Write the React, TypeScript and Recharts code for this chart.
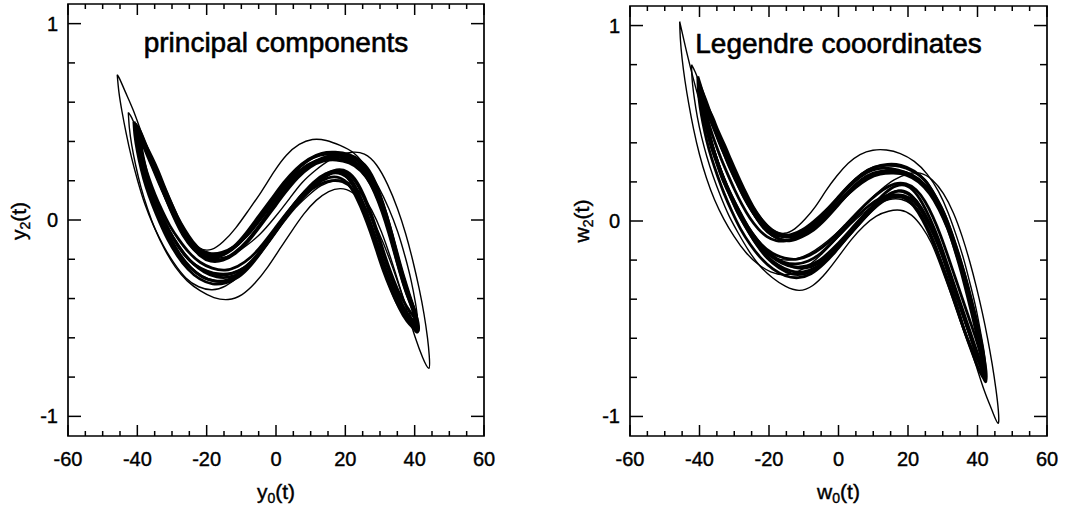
import React from 'react';
import { ScatterChart, Scatter, XAxis, YAxis, ReferenceArea } from 'recharts';

type Pt = [number, number];

// ---------- axis ticks ----------
const xTicks = [-60, -55, -50, -45, -40, -35, -30, -25, -20, -15, -10, -5, 0, 5, 10, 15, 20, 25, 30, 35, 40, 45, 50, 55, 60];
const xMajor = [-60, -40, -20, 0, 20, 40, 60];
const yTicks = [-1, -0.8, -0.6, -0.4, -0.2, 0, 0.2, 0.4, 0.6, 0.8, 1];
const yMajor = [-1, 0, 1];

// ---------- principal components panel (y0, y2) ----------
const pcOuterA: Pt[] = [
  [-45.8, 0.74], [-45.3, 0.65], [-44.4, 0.55], [-43.2, 0.44], [-41.7, 0.32], [-39.9, 0.2], [-37.8, 0.08], [-35.3, -0.03],
  [-32.5, -0.13], [-29.4, -0.22], [-26, -0.295], [-22.3, -0.34], [-18.4, -0.355], [-14.5, -0.335], [-10.6, -0.285],
  [-6.8, -0.215], [-3, -0.13], [1, -0.04], [5, 0.05], [9, 0.12], [13, 0.175], [17, 0.2], [21, 0.19], [24.5, 0.135],
  [27.6, 0.05], [30.4, -0.06], [33, -0.19], [35.5, -0.33], [37.9, -0.47], [40.2, -0.6], [42.3, -0.7], [44.1, -0.755],
  [44.2, -0.69], [43.7, -0.6], [42.7, -0.48], [41.3, -0.35], [39.5, -0.21], [37.4, -0.07], [35, 0.06], [32.2, 0.18],
  [29, 0.28], [25.5, 0.335], [22, 0.345], [18.5, 0.33], [15, 0.3], [11.5, 0.255], [7.5, 0.19], [3.5, 0.1], [-0.5, 0.01],
  [-4.5, -0.07], [-8.5, -0.13], [-12.5, -0.175], [-16.5, -0.195], [-20.5, -0.19], [-24, -0.15], [-27, -0.08],
  [-29.6, 0.01], [-32, 0.11], [-34.3, 0.22], [-36.6, 0.34], [-38.9, 0.45], [-41.2, 0.56], [-43.4, 0.65], [-45, 0.715],
  [-45.8, 0.74],
];
const pcOuterB: Pt[] = [
  [-42.6, 0.548], [-42.3, 0.47], [-41.6, 0.38], [-40.5, 0.28], [-39, 0.17], [-37.1, 0.06], [-34.8, -0.05], [-32.1, -0.15],
  [-29, -0.24], [-25.6, -0.31], [-21.9, -0.36], [-17.9, -0.395], [-13.8, -0.405], [-9.8, -0.38], [-6, -0.32],
  [-2.4, -0.24], [1, -0.15], [4.4, -0.06], [8, 0.03], [11.6, 0.1], [15.2, 0.145], [18.6, 0.16], [22, 0.14], [25.2, 0.08],
  [28.2, -0.01], [31, -0.12], [33.6, -0.24], [36, -0.36], [38.1, -0.46], [39.7, -0.52], [40.6, -0.546],
  [40.8, -0.5], [40.2, -0.42], [39, -0.31], [37.3, -0.19], [35.1, -0.06], [32.5, 0.06], [29.5, 0.17], [26.2, 0.265],
  [22.5, 0.34], [18.5, 0.38], [14.5, 0.405], [10.5, 0.41], [6.7, 0.385], [3, 0.33], [-0.6, 0.245], [-4.2, 0.145],
  [-7.9, 0.05], [-11.6, -0.04], [-15.2, -0.11], [-18.6, -0.15], [-22, -0.145], [-25.2, -0.1], [-28, -0.03], [-30.6, 0.06],
  [-33.1, 0.16], [-35.5, 0.26], [-37.8, 0.36], [-39.9, 0.45], [-41.6, 0.52], [-42.6, 0.548],
];
const pcCore1: Pt[] = [
  [-39.8, 0.44], [-39.4, 0.38], [-38.6, 0.31], [-37.5, 0.23], [-36, 0.15], [-34.2, 0.07], [-32.1, -0.01], [-29.7, -0.09],
  [-27, -0.16], [-24, -0.22], [-20.7, -0.265], [-17.1, -0.29], [-13.4, -0.29], [-9.7, -0.26], [-6.1, -0.2], [-2.6, -0.12],
  [0.9, -0.03], [4.4, 0.05], [8, 0.12], [11.6, 0.18], [15.2, 0.215], [18.3, 0.215], [21, 0.18], [23.3, 0.11], [25.3, 0.03],
  [27.2, -0.06], [29.1, -0.16], [31, -0.26], [33, -0.35], [35.1, -0.43], [37.3, -0.49], [39.3, -0.53], [40.3, -0.548],
  [40.3, -0.51], [39.3, -0.45], [37.8, -0.38], [36.2, -0.29], [34.6, -0.19], [33, -0.08], [31.2, 0.03], [29.1, 0.13],
  [26.6, 0.22], [23.6, 0.285], [20.2, 0.32], [16.5, 0.335], [12.7, 0.33], [9, 0.3], [5.4, 0.245], [1.8, 0.17], [-1.8, 0.08],
  [-5.4, -0.01], [-9, -0.09], [-12.6, -0.15], [-16.2, -0.185], [-19.4, -0.19], [-22.2, -0.165], [-24.7, -0.115], [-27, -0.05],
  [-29.2, 0.025], [-31.3, 0.105], [-33.3, 0.19], [-35.2, 0.27], [-37, 0.35], [-38.7, 0.41], [-39.8, 0.44],
];
const pcCore2: Pt[] = [
  [-40.6, 0.49], [-40.3, 0.42], [-39.5, 0.34], [-38.4, 0.25], [-36.9, 0.16], [-35.1, 0.07], [-33, -0.02], [-30.6, -0.1],
  [-27.9, -0.18], [-24.9, -0.24], [-21.6, -0.285], [-18, -0.31], [-14.3, -0.31], [-10.6, -0.28], [-7, -0.22], [-3.5, -0.14],
  [0, -0.05], [3.5, 0.04], [7.1, 0.12], [10.7, 0.19], [14.3, 0.235], [17.6, 0.245], [20.6, 0.215], [23.1, 0.145], [25.3, 0.055],
  [27.3, -0.04], [29.3, -0.15], [31.3, -0.26], [33.4, -0.36], [35.6, -0.45], [37.8, -0.515], [39.8, -0.555], [40.8, -0.57],
  [40.8, -0.53], [39.9, -0.47], [38.5, -0.39], [36.9, -0.3], [35.3, -0.2], [33.7, -0.09], [32, 0.02], [30, 0.13], [27.6, 0.23],
  [24.7, 0.295], [21.3, 0.325], [17.5, 0.34], [13.6, 0.338], [9.8, 0.31], [6.2, 0.26], [2.6, 0.19], [-1, 0.1], [-4.6, 0.01],
  [-8.2, -0.07], [-11.8, -0.135], [-15.4, -0.175], [-18.6, -0.18], [-21.5, -0.155], [-24, -0.11], [-26.3, -0.05],
  [-28.5, 0.02], [-30.6, 0.1], [-32.6, 0.18], [-34.5, 0.26], [-36.3, 0.33], [-37.9, 0.4], [-39.4, 0.46], [-40.6, 0.49],
];
const pcCore3: Pt[] = [
  [-39, 0.41], [-38.6, 0.35], [-37.8, 0.28], [-36.7, 0.2], [-35.2, 0.12], [-33.4, 0.04], [-31.3, -0.04], [-28.9, -0.11],
  [-26.2, -0.18], [-23.2, -0.23], [-19.9, -0.26], [-16.3, -0.275], [-12.6, -0.27], [-8.9, -0.24], [-5.3, -0.18], [-1.8, -0.1],
  [1.7, -0.01], [5.2, 0.07], [8.8, 0.135], [12.4, 0.18], [16, 0.2], [19.2, 0.195], [21.9, 0.16], [24.1, 0.095], [26, 0.015],
  [27.9, -0.075], [29.8, -0.17], [31.7, -0.265], [33.7, -0.35], [35.8, -0.425], [37.9, -0.48], [39.6, -0.515], [40, -0.525],
  [39.9, -0.49], [38.9, -0.43], [37.4, -0.36], [35.8, -0.27], [34.2, -0.17], [32.5, -0.065], [30.6, 0.04], [28.4, 0.14],
  [25.8, 0.225], [22.8, 0.28], [19.4, 0.305], [15.7, 0.31], [12, 0.3], [8.4, 0.27], [4.8, 0.22], [1.2, 0.15], [-2.4, 0.06],
  [-6, -0.025], [-9.6, -0.1], [-13.2, -0.155], [-16.8, -0.18], [-20.2, -0.175], [-23.3, -0.14], [-26, -0.08], [-28.5, -0.01],
  [-30.7, 0.07], [-32.8, 0.155], [-34.7, 0.24], [-36.4, 0.31], [-37.9, 0.37], [-39, 0.41],
];
const pcCore4: Pt[] = [
  [-40.3, 0.46], [-39.9, 0.4], [-39.1, 0.32], [-38, 0.24], [-36.5, 0.15], [-34.7, 0.06], [-32.6, -0.02], [-30.2, -0.1],
  [-27.5, -0.18], [-24.5, -0.245], [-21.2, -0.29], [-17.6, -0.31], [-13.9, -0.305], [-10.2, -0.27], [-6.6, -0.205],
  [-3.1, -0.125], [0.4, -0.04], [3.9, 0.04], [7.5, 0.11], [11.1, 0.175], [14.7, 0.225], [18.1, 0.25], [21.2, 0.23], [23.8, 0.17],
  [26, 0.085], [28, -0.01], [29.9, -0.115], [31.8, -0.22], [33.8, -0.32], [35.9, -0.41], [38, -0.48], [39.8, -0.525], [40.6, -0.54],
  [40.6, -0.5], [39.6, -0.44], [38.1, -0.37], [36.5, -0.28], [34.9, -0.18], [33.3, -0.07], [31.5, 0.04], [29.4, 0.145],
  [26.9, 0.235], [24, 0.295], [20.6, 0.325], [17, 0.33], [13.3, 0.315], [9.7, 0.28], [6.1, 0.225], [2.5, 0.15], [-1.1, 0.065],
  [-4.7, -0.025], [-8.3, -0.105], [-11.9, -0.165], [-15.5, -0.2], [-18.8, -0.2], [-21.6, -0.17], [-24, -0.12], [-26.2, -0.06],
  [-28.3, 0.01], [-30.3, 0.09], [-32.2, 0.17], [-34, 0.25], [-35.8, 0.32], [-37.5, 0.38], [-39.1, 0.43], [-40.3, 0.46],
];
const pcCore5: Pt[] = [
  [-39.5, 0.43], [-39.1, 0.37], [-38.3, 0.3], [-37.2, 0.22], [-35.7, 0.14], [-33.9, 0.06], [-31.8, -0.02], [-29.4, -0.1],
  [-26.7, -0.17], [-23.7, -0.225], [-20.4, -0.26], [-16.8, -0.28], [-13.1, -0.275], [-9.4, -0.245], [-5.8, -0.185],
  [-2.3, -0.105], [1.2, -0.015], [4.7, 0.07], [8.3, 0.145], [11.9, 0.2], [15.5, 0.235], [18.8, 0.235], [21.6, 0.2], [23.9, 0.13],
  [25.9, 0.045], [27.8, -0.05], [29.7, -0.155], [31.6, -0.255], [33.6, -0.345], [35.7, -0.42], [37.9, -0.48], [39.7, -0.52],
  [40.4, -0.535], [40.4, -0.495], [39.5, -0.44], [38, -0.37], [36.4, -0.28], [34.8, -0.18], [33.1, -0.07], [31.3, 0.04],
  [29.2, 0.14], [26.8, 0.225], [23.9, 0.28], [20.6, 0.31], [17, 0.32], [13.3, 0.31], [9.6, 0.285], [6, 0.235], [2.4, 0.165],
  [-1.2, 0.08], [-4.8, -0.005], [-8.4, -0.08], [-12, -0.135], [-15.6, -0.165], [-19.1, -0.17], [-22.3, -0.145], [-25.2, -0.09],
  [-27.8, -0.02], [-30.1, 0.06], [-32.3, 0.15], [-34.3, 0.24], [-36.1, 0.32], [-37.8, 0.38], [-39, 0.42], [-39.5, 0.43],
];
const pcCore6: Pt[] = [
  [-39.6, 0.42], [-39, 0.36], [-38, 0.29], [-36.6, 0.21], [-34.9, 0.13], [-32.9, 0.05], [-30.6, -0.03], [-28, -0.1],
  [-25.1, -0.165], [-21.9, -0.215], [-18.4, -0.245], [-14.7, -0.255], [-11, -0.235], [-7.3, -0.19], [-3.7, -0.12], [-0.2, -0.04],
  [3.3, 0.04], [6.9, 0.115], [10.5, 0.18], [14.1, 0.23], [17.5, 0.255], [20.6, 0.245], [23.3, 0.195], [25.6, 0.115], [27.6, 0.025],
  [29.5, -0.075], [31.4, -0.18], [33.4, -0.28], [35.5, -0.37], [37.7, -0.44], [39.6, -0.49], [40.4, -0.51],
  [40.2, -0.48], [39, -0.42], [37.3, -0.34], [35.6, -0.24], [33.9, -0.13], [32, -0.02], [29.9, 0.085], [27.4, 0.18], [24.5, 0.25],
  [21.1, 0.29], [17.4, 0.305], [13.6, 0.3], [9.9, 0.27], [6.3, 0.215], [2.7, 0.14], [-0.9, 0.055], [-4.5, -0.03], [-8.1, -0.11],
  [-11.7, -0.17], [-15.3, -0.205], [-18.8, -0.21], [-22, -0.18], [-24.8, -0.125], [-27.3, -0.055], [-29.6, 0.025],
  [-31.8, 0.11], [-33.8, 0.19], [-35.7, 0.27], [-37.4, 0.34], [-38.8, 0.4], [-39.6, 0.42],
];
const pcCore7: Pt[] = [
  [-41, 0.5], [-40.7, 0.43], [-40, 0.35], [-38.9, 0.26], [-37.5, 0.17], [-35.7, 0.08], [-33.6, -0.01], [-31.2, -0.1],
  [-28.5, -0.18], [-25.4, -0.25], [-22, -0.3], [-18.3, -0.325], [-14.5, -0.32], [-10.8, -0.29], [-7.2, -0.23], [-3.7, -0.15],
  [-0.2, -0.065], [3.3, 0.025], [6.9, 0.105], [10.5, 0.175], [14.1, 0.225], [17.5, 0.245], [20.6, 0.225], [23.2, 0.16],
  [25.4, 0.075], [27.4, -0.02], [29.4, -0.125], [31.4, -0.235], [33.5, -0.34], [35.7, -0.43], [38, -0.5], [40, -0.545], [41, -0.565],
  [41, -0.525], [40, -0.46], [38.5, -0.38], [36.9, -0.29], [35.3, -0.19], [33.6, -0.08], [31.8, 0.03], [29.7, 0.135], [27.2, 0.23],
  [24.3, 0.3], [20.9, 0.335], [17.1, 0.345], [13.2, 0.34], [9.4, 0.31], [5.8, 0.26], [2.2, 0.19], [-1.4, 0.105], [-5, 0.02],
  [-8.6, -0.065], [-12.2, -0.135], [-15.8, -0.175], [-19.2, -0.18], [-22.2, -0.155], [-24.8, -0.105], [-27.2, -0.04],
  [-29.4, 0.035], [-31.5, 0.115], [-33.5, 0.2], [-35.4, 0.28], [-37.2, 0.36], [-38.8, 0.42], [-40.1, 0.47], [-41, 0.5],
];

// ---------- Legendre coordinates panel (w0, w2) ----------
const lgOuterA: Pt[] = [
  [-45.7, 1.02], [-45.5, 0.93], [-45, 0.83], [-44.2, 0.72], [-43.1, 0.6], [-41.7, 0.47], [-40, 0.34], [-38, 0.22], [-35.7, 0.11],
  [-33, 0.01], [-30, -0.08], [-26.7, -0.16], [-23.2, -0.22], [-19.5, -0.26], [-15.7, -0.275], [-11.9, -0.26], [-8.1, -0.22],
  [-4.3, -0.16], [-0.5, -0.09], [3.3, -0.02], [7.1, 0.04], [10.9, 0.085], [14.6, 0.11], [18.2, 0.11], [21.5, 0.08], [24.5, 0.02],
  [27.2, -0.07], [29.7, -0.18], [32.1, -0.31], [34.6, -0.45], [37.1, -0.6], [39.6, -0.74], [42, -0.87], [44.2, -0.97], [45.9, -1.035],
  [46, -0.97], [45.3, -0.86], [44.2, -0.73], [42.9, -0.6], [41.4, -0.47], [39.7, -0.34], [37.8, -0.21], [35.6, -0.08], [33.1, 0.04],
  [30.2, 0.14], [27, 0.21], [23.5, 0.245], [19.8, 0.24], [16, 0.21], [12.2, 0.16], [8.4, 0.1], [4.6, 0.03], [0.8, -0.04],
  [-3, -0.1], [-6.8, -0.15], [-10.6, -0.185], [-14.4, -0.2], [-18.1, -0.19], [-21.6, -0.15], [-24.8, -0.08], [-27.7, 0.01],
  [-30.4, 0.11], [-32.9, 0.22], [-35.3, 0.34], [-37.6, 0.47], [-39.8, 0.6], [-41.8, 0.73], [-43.5, 0.85], [-44.8, 0.95], [-45.7, 1.02],
];
const lgOuterB: Pt[] = [
  [-42.3, 0.8], [-42.1, 0.72], [-41.5, 0.63], [-40.6, 0.53], [-39.4, 0.43], [-37.9, 0.33], [-36.1, 0.23], [-34, 0.13], [-31.6, 0.03],
  [-28.9, -0.06], [-25.9, -0.15], [-22.6, -0.23], [-19, -0.29], [-15.2, -0.335], [-11.3, -0.355], [-7.4, -0.33], [-3.6, -0.265],
  [0.1, -0.18], [3.7, -0.095], [7.3, -0.025], [10.9, 0.025], [14.4, 0.05], [17.8, 0.055], [21, 0.03], [24, -0.03], [26.8, -0.115],
  [29.4, -0.23], [31.9, -0.35], [34.3, -0.47], [36.6, -0.59], [38.8, -0.69], [40.8, -0.765], [42.3, -0.8],
  [42.4, -0.75], [41.9, -0.67], [40.9, -0.57], [39.6, -0.45], [38, -0.33], [36.1, -0.2], [34, -0.08], [31.6, 0.04], [28.8, 0.15],
  [25.5, 0.24], [21.8, 0.305], [17.8, 0.345], [13.8, 0.363], [9.9, 0.362], [6.2, 0.34], [2.8, 0.295], [-0.5, 0.23], [-3.6, 0.155],
  [-6.6, 0.075], [-9.6, 0.01], [-12.6, -0.04], [-15.6, -0.063], [-18.6, -0.05], [-21.6, -0.01], [-24.4, 0.05], [-27, 0.13],
  [-29.4, 0.22], [-31.7, 0.32], [-33.9, 0.42], [-36, 0.52], [-38, 0.62], [-39.8, 0.7], [-41.3, 0.765], [-42.3, 0.8],
];
const lgCore1: Pt[] = [
  [-39.3, 0.66], [-39, 0.6], [-38.4, 0.53], [-37.4, 0.45], [-36.1, 0.37], [-34.6, 0.29], [-32.8, 0.21], [-30.8, 0.13], [-28.5, 0.05],
  [-26, -0.03], [-23.2, -0.1], [-20.1, -0.16], [-16.7, -0.205], [-13.1, -0.235], [-9.4, -0.24], [-5.7, -0.215], [-2.1, -0.165],
  [1.4, -0.1], [4.9, -0.03], [8.4, 0.04], [11.9, 0.1], [15.3, 0.145], [18.5, 0.15], [21.4, 0.12], [24, 0.06], [26.4, -0.02],
  [28.6, -0.11], [30.7, -0.21], [32.8, -0.32], [34.9, -0.43], [37, -0.54], [39, -0.64], [40.6, -0.72], [41.5, -0.77],
  [41.6, -0.73], [41.1, -0.66], [40.2, -0.58], [39, -0.49], [37.6, -0.39], [36, -0.28], [34.2, -0.17], [32.2, -0.06], [29.9, 0.04],
  [27.3, 0.13], [24.3, 0.19], [20.9, 0.235], [17.2, 0.26], [13.4, 0.27], [9.7, 0.26], [6.2, 0.225], [2.8, 0.17], [-0.5, 0.105],
  [-3.8, 0.04], [-7.2, -0.02], [-10.6, -0.06], [-13.5, -0.08], [-16.3, -0.08], [-19, -0.06], [-21.6, -0.015], [-24, 0.045],
  [-26.3, 0.115], [-28.4, 0.19], [-30.5, 0.27], [-32.5, 0.35], [-34.4, 0.43], [-36.1, 0.5], [-37.6, 0.57], [-38.7, 0.62], [-39.3, 0.66],
];
const lgCore2: Pt[] = [
  [-40, 0.7], [-39.7, 0.63], [-39.1, 0.56], [-38.1, 0.48], [-36.8, 0.39], [-35.3, 0.31], [-33.5, 0.22], [-31.5, 0.14], [-29.2, 0.05],
  [-26.7, -0.03], [-23.9, -0.11], [-20.8, -0.175], [-17.4, -0.225], [-13.8, -0.255], [-10.1, -0.26], [-6.4, -0.235], [-2.8, -0.185],
  [0.7, -0.12], [4.2, -0.05], [7.7, 0.02], [11.2, 0.085], [14.7, 0.135], [18, 0.155], [21, 0.13], [23.7, 0.07], [26.1, -0.01],
  [28.4, -0.1], [30.6, -0.2], [32.8, -0.31], [35, -0.43], [37.2, -0.55], [39.3, -0.66], [41, -0.75], [42, -0.8],
  [42.1, -0.76], [41.6, -0.69], [40.7, -0.6], [39.5, -0.5], [38.1, -0.4], [36.5, -0.29], [34.7, -0.18], [32.7, -0.07], [30.4, 0.04],
  [27.8, 0.13], [24.8, 0.21], [21.4, 0.255], [17.7, 0.28], [13.9, 0.285], [10.2, 0.275], [6.7, 0.24], [3.3, 0.185], [0, 0.12],
  [-3.3, 0.055], [-6.7, -0.005], [-10.1, -0.05], [-13.3, -0.075], [-16.3, -0.07], [-19.1, -0.045], [-21.8, 0], [-24.3, 0.06],
  [-26.6, 0.13], [-28.8, 0.21], [-30.9, 0.29], [-32.9, 0.37], [-34.8, 0.45], [-36.6, 0.53], [-38.2, 0.6], [-39.4, 0.66], [-40, 0.7],
];
const lgCore3: Pt[] = [
  [-38.6, 0.62], [-38.3, 0.56], [-37.6, 0.49], [-36.6, 0.41], [-35.3, 0.33], [-33.8, 0.25], [-32, 0.17], [-30, 0.09], [-27.7, 0.01],
  [-25.2, -0.065], [-22.4, -0.13], [-19.3, -0.18], [-15.9, -0.21], [-12.3, -0.22], [-8.7, -0.205], [-5.1, -0.165], [-1.6, -0.105],
  [1.9, -0.04], [5.4, 0.025], [8.9, 0.08], [12.4, 0.12], [15.8, 0.135], [18.9, 0.12], [21.7, 0.075], [24.2, 0.005], [26.5, -0.08],
  [28.7, -0.175], [30.8, -0.28], [32.9, -0.39], [35, -0.5], [37.1, -0.6], [39.1, -0.68], [40.4, -0.725], [41, -0.74],
  [41.1, -0.7], [40.5, -0.64], [39.5, -0.56], [38.3, -0.47], [36.9, -0.37], [35.3, -0.26], [33.5, -0.15], [31.5, -0.04], [29.2, 0.055],
  [26.6, 0.14], [23.6, 0.2], [20.2, 0.235], [16.6, 0.25], [12.9, 0.25], [9.3, 0.235], [5.8, 0.195], [2.4, 0.14], [-0.9, 0.08],
  [-4.2, 0.02], [-7.6, -0.03], [-11, -0.065], [-14.1, -0.08], [-17, -0.07], [-19.7, -0.04], [-22.2, 0.01], [-24.6, 0.075],
  [-26.8, 0.15], [-28.9, 0.23], [-30.9, 0.31], [-32.8, 0.39], [-34.6, 0.46], [-36.2, 0.53], [-37.6, 0.58], [-38.6, 0.62],
];
const lgCore4: Pt[] = [
  [-39.7, 0.68], [-39.4, 0.61], [-38.8, 0.54], [-37.8, 0.46], [-36.5, 0.38], [-35, 0.3], [-33.2, 0.21], [-31.2, 0.13], [-28.9, 0.04],
  [-26.4, -0.04], [-23.6, -0.12], [-20.5, -0.19], [-17.1, -0.24], [-13.5, -0.27], [-9.8, -0.27], [-6.1, -0.24], [-2.5, -0.18],
  [1, -0.11], [4.5, -0.035], [8, 0.04], [11.5, 0.11], [15, 0.165], [18.3, 0.185], [21.3, 0.16], [24, 0.095], [26.4, 0.01],
  [28.6, -0.085], [30.7, -0.19], [32.8, -0.3], [34.9, -0.41], [37, -0.52], [39.1, -0.63], [40.8, -0.72], [41.8, -0.78],
  [41.9, -0.74], [41.4, -0.67], [40.5, -0.59], [39.3, -0.5], [37.9, -0.4], [36.3, -0.29], [34.5, -0.18], [32.5, -0.07], [30.2, 0.03],
  [27.6, 0.12], [24.6, 0.19], [21.2, 0.235], [17.5, 0.255], [13.7, 0.258], [10, 0.245], [6.5, 0.21], [3.1, 0.155], [-0.2, 0.09],
  [-3.5, 0.025], [-6.9, -0.03], [-10.3, -0.07], [-13.4, -0.095], [-16.3, -0.095], [-19, -0.075], [-21.6, -0.035], [-24, 0.025],
  [-26.3, 0.095], [-28.5, 0.17], [-30.6, 0.25], [-32.6, 0.33], [-34.5, 0.41], [-36.3, 0.49], [-37.9, 0.56], [-39.1, 0.63], [-39.7, 0.68],
];
const lgCore5: Pt[] = [
  [-39, 0.64], [-38.7, 0.58], [-38.1, 0.51], [-37.1, 0.43], [-35.8, 0.35], [-34.3, 0.27], [-32.5, 0.19], [-30.5, 0.11], [-28.2, 0.03],
  [-25.7, -0.05], [-22.9, -0.12], [-19.8, -0.175], [-16.4, -0.215], [-12.8, -0.235], [-9.1, -0.23], [-5.4, -0.2], [-1.8, -0.145],
  [1.7, -0.08], [5.2, -0.01], [8.7, 0.055], [12.2, 0.105], [15.6, 0.13], [18.8, 0.13], [21.7, 0.1], [24.3, 0.04], [26.7, -0.04],
  [28.9, -0.13], [31, -0.23], [33.1, -0.34], [35.2, -0.45], [37.3, -0.56], [39.3, -0.66], [40.8, -0.735], [41.6, -0.765],
  [41.7, -0.725], [41.2, -0.66], [40.3, -0.58], [39.1, -0.49], [37.7, -0.39], [36.1, -0.28], [34.3, -0.17], [32.3, -0.06], [30, 0.04],
  [27.4, 0.125], [24.4, 0.19], [21, 0.23], [17.3, 0.25], [13.5, 0.25], [9.8, 0.235], [6.3, 0.195], [2.9, 0.14], [-0.4, 0.075],
  [-3.7, 0.01], [-7.1, -0.045], [-10.5, -0.08], [-13.7, -0.1], [-16.6, -0.095], [-19.3, -0.07], [-21.9, -0.025], [-24.3, 0.035],
  [-26.6, 0.105], [-28.7, 0.18], [-30.7, 0.26], [-32.7, 0.34], [-34.6, 0.42], [-36.2, 0.5], [-37.6, 0.56], [-38.5, 0.61], [-39, 0.64],
];
const lgCore6: Pt[] = [
  [-39.2, 0.65], [-38.8, 0.58], [-38, 0.5], [-36.9, 0.42], [-35.5, 0.34], [-33.9, 0.26], [-32.1, 0.18], [-30, 0.1], [-27.7, 0.02],
  [-25.1, -0.055], [-22.2, -0.12], [-19, -0.165], [-15.5, -0.19], [-11.9, -0.195], [-8.3, -0.175], [-4.7, -0.135], [-1.2, -0.08],
  [2.3, -0.015], [5.8, 0.05], [9.3, 0.11], [12.8, 0.16], [16.2, 0.19], [19.4, 0.19], [22.3, 0.16], [24.9, 0.1], [27.2, 0.02],
  [29.4, -0.075], [31.5, -0.18], [33.6, -0.29], [35.7, -0.4], [37.8, -0.51], [39.7, -0.61], [41, -0.69], [41.6, -0.73],
  [41.5, -0.69], [40.8, -0.62], [39.8, -0.54], [38.5, -0.45], [37, -0.35], [35.3, -0.245], [33.4, -0.14], [31.3, -0.035], [28.9, 0.06],
  [26.2, 0.14], [23, 0.2], [19.5, 0.235], [15.8, 0.245], [12, 0.24], [8.4, 0.215], [4.9, 0.17], [1.5, 0.115], [-1.8, 0.055],
  [-5.1, 0], [-8.5, -0.045], [-11.9, -0.08], [-15, -0.1], [-17.9, -0.1], [-20.6, -0.08], [-23.1, -0.04], [-25.5, 0.015],
  [-27.8, 0.085], [-29.9, 0.16], [-31.9, 0.24], [-33.8, 0.32], [-35.5, 0.4], [-37, 0.48], [-38.2, 0.56], [-39, 0.62], [-39.2, 0.65],
];
const lgCore7: Pt[] = [
  [-40.5, 0.74], [-40.3, 0.66], [-39.8, 0.58], [-39, 0.5], [-37.9, 0.41], [-36.5, 0.32], [-34.8, 0.23], [-32.9, 0.14], [-30.7, 0.05],
  [-28.2, -0.04], [-25.4, -0.12], [-22.3, -0.19], [-18.9, -0.245], [-15.3, -0.28], [-11.6, -0.29], [-7.9, -0.27], [-4.3, -0.22],
  [-0.8, -0.155], [2.7, -0.08], [6.2, -0.01], [9.7, 0.055], [13.2, 0.105], [16.6, 0.125], [19.8, 0.11], [22.6, 0.06], [25.1, -0.015],
  [27.4, -0.105], [29.6, -0.21], [31.8, -0.32], [34, -0.44], [36.2, -0.56], [38.4, -0.67], [40.4, -0.76], [41.9, -0.81], [42.4, -0.82],
  [42.5, -0.78], [42, -0.71], [41.1, -0.62], [39.9, -0.52], [38.5, -0.42], [36.9, -0.31], [35.1, -0.2], [33.1, -0.09], [30.8, 0.02],
  [28.2, 0.115], [25.2, 0.2], [21.8, 0.255], [18, 0.285], [14.1, 0.29], [10.3, 0.275], [6.7, 0.24], [3.2, 0.185], [-0.2, 0.12],
  [-3.6, 0.055], [-7, 0], [-10.4, -0.045], [-13.7, -0.07], [-16.8, -0.07], [-19.7, -0.05], [-22.4, -0.01], [-24.9, 0.05],
  [-27.2, 0.12], [-29.4, 0.2], [-31.5, 0.28], [-33.5, 0.37], [-35.4, 0.46], [-37.1, 0.55], [-38.6, 0.63], [-39.8, 0.7], [-40.5, 0.74],
];

const FONT = '"Liberation Sans", Arial, Helvetica, sans-serif';
const toXY = (a: Pt[]) => a.map(([x, y]) => ({ x, y }));

type Loop = { data: Pt[]; w: number };

type PanelProps = {
  left: number;
  width: number;
  top: number;
  plotLeft: number;
  plotRight: number;
  xAxisH: number;
  loops: Loop[];
};

function Panel({ left, width, top, plotLeft, plotRight, xAxisH, loops }: PanelProps) {
  const height = 506;
  const plotW = width - plotLeft - plotRight;
  const plotH = height - top - xAxisH;

  const XTick = (props: any) => {
    const { x, y, payload } = props;
    const v = payload.value;
    const major = xMajor.includes(v);
    const len = major ? 11 : 5;
    return (
      <g>
        <line x1={x} y1={y} x2={x} y2={y - len} stroke="#000" strokeWidth={1.5} />
        <line x1={x} y1={y - plotH} x2={x} y2={y - plotH + len} stroke="#000" strokeWidth={1.5} />
        {major && (
          <text x={x} y={y + 30} textAnchor="middle" fontFamily={FONT} fontSize={20} fill="#000" stroke="#000" strokeWidth={0.4}>
            {v}
          </text>
        )}
      </g>
    );
  };

  const YTick = (props: any) => {
    const { x, y, payload } = props;
    const v = payload.value;
    const major = yMajor.includes(v);
    const len = major ? 13 : 7;
    return (
      <g>
        <line x1={x} y1={y} x2={x + len} y2={y} stroke="#000" strokeWidth={1.5} />
        <line x1={x + plotW} y1={y} x2={x + plotW - len} y2={y} stroke="#000" strokeWidth={1.5} />
        {major && (
          <text x={x - 10} y={y + 7} textAnchor="end" fontFamily={FONT} fontSize={20} fill="#000" stroke="#000" strokeWidth={0.4}>
            {v}
          </text>
        )}
      </g>
    );
  };

  return (
    <div style={{ position: 'absolute', left, top: 0, width, height }}>
      <ScatterChart width={width} height={height} margin={{ top, right: plotRight, bottom: 0, left: 0 }}>
        <XAxis
          dataKey="x"
          type="number"
          domain={[-60, 60]}
          ticks={xTicks}
          interval={0}
          height={xAxisH}
          tickSize={0}
          tickMargin={0}
          tickLine={false}
          axisLine={false}
          tick={XTick}
          allowDataOverflow
        />
        <YAxis
          dataKey="y"
          type="number"
          domain={[-1.1, 1.1]}
          ticks={yTicks}
          interval={0}
          width={plotLeft}
          tickSize={0}
          tickMargin={0}
          tickLine={false}
          axisLine={false}
          tick={YTick}
          allowDataOverflow
        />
        <ReferenceArea x1={-60} x2={60} y1={-1.1} y2={1.1} fill="none" fillOpacity={0} stroke="#000" strokeWidth={1.7} />
        {loops.map((l, i) => (
          <Scatter
            key={i}
            data={toXY(l.data)}
            line={{ stroke: '#000', strokeWidth: l.w }}
            lineJointType="natural"
            shape={() => <g />}
            isAnimationActive={false}
          />
        ))}
      </ScatterChart>
    </div>
  );
}

export default function App() {
  const coreW = 2.8;
  const pcLoops: Loop[] = [
    { data: pcOuterA, w: 1.4 },
    { data: pcOuterB, w: 1.4 },
    { data: pcCore1, w: coreW },
    { data: pcCore2, w: coreW },
    { data: pcCore3, w: coreW },
    { data: pcCore4, w: coreW },
    { data: pcCore5, w: coreW },
    { data: pcCore6, w: coreW },
    { data: pcCore7, w: coreW },
  ];
  const lgLoops: Loop[] = [
    { data: lgOuterA, w: 1.4 },
    { data: lgOuterB, w: 1.4 },
    { data: lgCore1, w: coreW },
    { data: lgCore2, w: coreW },
    { data: lgCore3, w: coreW },
    { data: lgCore4, w: coreW },
    { data: lgCore5, w: coreW },
    { data: lgCore6, w: coreW },
    { data: lgCore7, w: coreW },
  ];
  return (
    <div style={{ position: 'absolute', left: 0, top: 0, width: 1078, height: 506, background: '#fff', overflow: 'hidden' }}>
      <Panel left={0} width={540} top={4} plotLeft={68} plotRight={56} xAxisH={70} loops={pcLoops} />
      <Panel left={540} width={538} top={6} plotLeft={90} plotRight={31} xAxisH={70} loops={lgLoops} />
      <svg width={1078} height={506} style={{ position: 'absolute', left: 0, top: 0, pointerEvents: 'none' }}>
        <g fontFamily={FONT} fill="#000" stroke="#000">
          <text x={276} y={52} textAnchor="middle" fontSize={28} strokeWidth={0.6}>principal components</text>
          <text x={838.5} y={53} textAnchor="middle" fontSize={28} strokeWidth={0.6}>Legendre cooordinates</text>
          <text x={276} y={499} textAnchor="middle" fontSize={21} strokeWidth={0.4}>
            y<tspan fontSize={14} dy={4}>0</tspan><tspan dy={-4}>(t)</tspan>
          </text>
          <text x={838.5} y={499} textAnchor="middle" fontSize={21} strokeWidth={0.4}>
            w<tspan fontSize={14} dy={4}>0</tspan><tspan dy={-4}>(t)</tspan>
          </text>
          <text transform="translate(26,221) rotate(-90)" textAnchor="middle" fontSize={21} strokeWidth={0.4}>
            y<tspan fontSize={14} dy={4}>2</tspan><tspan dy={-4}>(t)</tspan>
          </text>
          <text transform="translate(589,221) rotate(-90)" textAnchor="middle" fontSize={21} strokeWidth={0.4}>
            w<tspan fontSize={14} dy={4}>2</tspan><tspan dy={-4}>(t)</tspan>
          </text>
        </g>
      </svg>
    </div>
  );
}
